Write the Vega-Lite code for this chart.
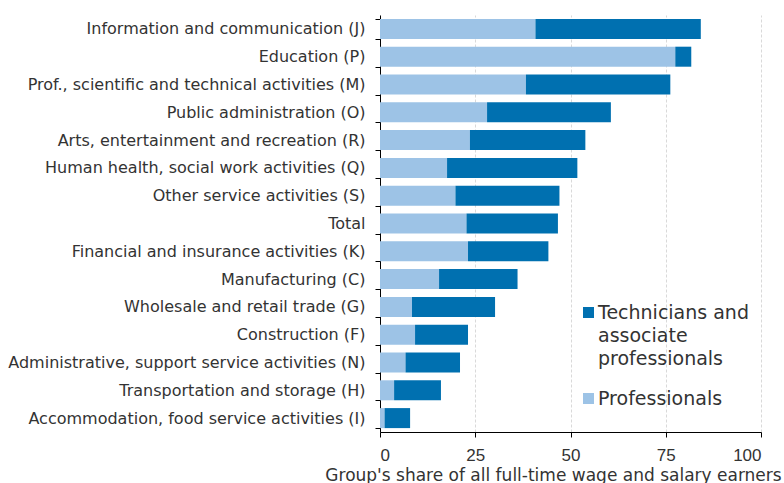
{
  "$schema": "https://vega.github.io/schema/vega-lite/v6.json",
  "width": 381,
  "height": 417,
  "autosize": {"type": "none"},
  "padding": {"left": 380, "top": 15, "right": 23, "bottom": 51},
  "background": "white",
  "config": {
    "view": {"stroke": null},
    "font": "DejaVu Sans",
    "style": {"guide-label": {"lineHeight": 23}},
    "axis": {"labelFont": "DejaVu Sans", "titleFont": "DejaVu Sans", "labelColor": "#333333", "titleColor": "#333333", "domainColor": "#000000", "tickColor": "#000000"},
    "legend": {"labelFont": "DejaVu Sans"}
  },
  "data": {
    "values": [
      {"sector": "Information and communication (J)", "group": "Professionals", "share": 40.8},
      {"sector": "Information and communication (J)", "group": "Technicians and associate professionals", "share": 43.4},
      {"sector": "Education (P)", "group": "Professionals", "share": 77.5},
      {"sector": "Education (P)", "group": "Technicians and associate professionals", "share": 4.2},
      {"sector": "Prof., scientific and technical activities (M)", "group": "Professionals", "share": 38.3},
      {"sector": "Prof., scientific and technical activities (M)", "group": "Technicians and associate professionals", "share": 37.9},
      {"sector": "Public administration (O)", "group": "Professionals", "share": 28.1},
      {"sector": "Public administration (O)", "group": "Technicians and associate professionals", "share": 32.5},
      {"sector": "Arts, entertainment and recreation (R)", "group": "Professionals", "share": 23.6},
      {"sector": "Arts, entertainment and recreation (R)", "group": "Technicians and associate professionals", "share": 30.3},
      {"sector": "Human health, social work activities (Q)", "group": "Professionals", "share": 17.6},
      {"sector": "Human health, social work activities (Q)", "group": "Technicians and associate professionals", "share": 34.2},
      {"sector": "Other service activities (S)", "group": "Professionals", "share": 19.8},
      {"sector": "Other service activities (S)", "group": "Technicians and associate professionals", "share": 27.3},
      {"sector": "Total", "group": "Professionals", "share": 22.7},
      {"sector": "Total", "group": "Technicians and associate professionals", "share": 24.0},
      {"sector": "Financial and insurance activities (K)", "group": "Professionals", "share": 23.1},
      {"sector": "Financial and insurance activities (K)", "group": "Technicians and associate professionals", "share": 21.1},
      {"sector": "Manufacturing (C)", "group": "Professionals", "share": 15.5},
      {"sector": "Manufacturing (C)", "group": "Technicians and associate professionals", "share": 20.6},
      {"sector": "Wholesale and retail trade (G)", "group": "Professionals", "share": 8.4},
      {"sector": "Wholesale and retail trade (G)", "group": "Technicians and associate professionals", "share": 21.8},
      {"sector": "Construction (F)", "group": "Professionals", "share": 9.2},
      {"sector": "Construction (F)", "group": "Technicians and associate professionals", "share": 13.9},
      {"sector": "Administrative, support service activities (N)", "group": "Professionals", "share": 6.7},
      {"sector": "Administrative, support service activities (N)", "group": "Technicians and associate professionals", "share": 14.3},
      {"sector": "Transportation and storage (H)", "group": "Professionals", "share": 3.7},
      {"sector": "Transportation and storage (H)", "group": "Technicians and associate professionals", "share": 12.3},
      {"sector": "Accommodation, food service activities (I)", "group": "Professionals", "share": 1.2},
      {"sector": "Accommodation, food service activities (I)", "group": "Technicians and associate professionals", "share": 6.7}
    ]
  },
  "mark": {"type": "bar"},
  "encoding": {
    "y": {
      "field": "sector",
      "type": "nominal",
      "sort": null,
      "scale": {"paddingInner": 0.28, "paddingOuter": 0.14},
      "axis": {"title": null, "tickBand": "extent", "tickSize": 5, "labelPadding": 10, "labelFontSize": 16, "labelLimit": 400, "domainWidth": 1}
    },
    "x": {
      "field": "share",
      "type": "quantitative",
      "stack": "zero",
      "scale": {"domain": [0, 100], "nice": false},
      "axis": {
        "values": [0, 25, 50, 75, 100],
        "title": "Group's share of all full-time wage and salary earners",
        "titleFontSize": 17,
        "titleFontWeight": "normal",
        "titlePadding": 4,
        "titleX": 173,
        "titleAlign": "center",
        "titleAnchor": "start",
        "labelFont": "Liberation Sans",
        "labelFontSize": 17,
        "labelPadding": 10,
        "tickSize": 5,
        "grid": true,
        "gridColor": "#d9d9d9",
        "gridDash": [3, 2]
      }
    },
    "color": {
      "field": "group",
      "type": "nominal",
      "scale": {"domain": ["Technicians and associate professionals", "Professionals"], "range": ["#0070b0", "#9dc3e6"]},
      "legend": {
        "title": null,
        "orient": "none",
        "legendX": 199,
        "legendY": 288,
        "symbolType": "square",
        "symbolSize": 121,
        "symbolStrokeWidth": 0,
        "labelFontSize": 19,
        "labelColor": "#333333",
        "labelLimit": 300,
        "labelBaseline": "middle",
        "labelOffset": 0,
        "rowPadding": 20,
        "labelExpr": "datum.label == 'Technicians and associate professionals' ? ['Technicians and', 'associate', 'professionals'] : datum.label"
      }
    },
    "order": {"field": "group", "sort": "ascending"}
  }
}
